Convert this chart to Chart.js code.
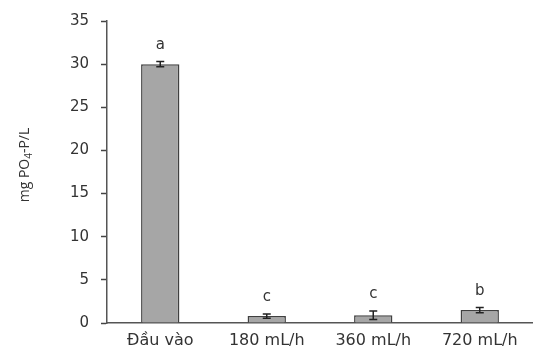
<!DOCTYPE html>
<html lang="vi">
<head>
<meta charset="UTF-8" />
<title>PO4-P</title>
<script src="https://cdn.jsdelivr.net/npm/chart.js"></script>
<style>
  html, body { margin: 0; padding: 0; background: #fff; }
  #wrap { width: 533px; height: 356px; }
</style>
</head>
<body>
<div id="wrap"><canvas id="chart"></canvas></div>
<script>
  const categories = ['Đầu vào', '180 mL/h', '360 mL/h', '720 mL/h'];
  const means = [30.0, 0.8, 0.9, 1.5];
  const errors = [0.3, 0.25, 0.5, 0.3];
  const letters = ['a', 'c', 'c', 'b'];
  const yTicks = [0, 5, 10, 15, 20, 25, 30, 35];

  const textColor = '#333';
  const fontFam = '"DejaVu Sans", Verdana, sans-serif';

  // error bars + significance letters
  const errorBars = {
    id: 'errorBars',
    afterDatasetsDraw(chart) {
      const ctx = chart.ctx;
      const meta = chart.getDatasetMeta(0);
      const y = chart.scales.y;
      ctx.save();
      ctx.strokeStyle = '#222';
      ctx.lineWidth = 1.5;
      meta.data.forEach((bar, i) => {
        const x = bar.x;
        const top = y.getPixelForValue(means[i] + errors[i]);
        const bot = y.getPixelForValue(means[i] - errors[i]);
        ctx.beginPath();
        ctx.moveTo(x, top); ctx.lineTo(x, bot);
        ctx.moveTo(x - 4, top); ctx.lineTo(x + 4, top);
        ctx.moveTo(x - 4, bot); ctx.lineTo(x + 4, bot);
        ctx.stroke();
        ctx.fillStyle = textColor;
        ctx.font = '15px ' + fontFam;
        ctx.textAlign = 'center';
        ctx.textBaseline = 'bottom';
        ctx.fillText(letters[i], x, top - 9);
      });
      ctx.restore();
    }
  };

  // rotated y title with subscript
  const yTitle = {
    id: 'yTitle',
    afterDraw(chart) {
      const ctx = chart.ctx;
      const fam = '"Open Sans", sans-serif';
      const parts = [
        { t: 'mg PO', size: 14, dy: 0 },
        { t: '4', size: 10, dy: 3 },
        { t: '-P/L', size: 14, dy: 0 }
      ];
      ctx.save();
      ctx.fillStyle = textColor;
      ctx.textBaseline = 'alphabetic';
      let total = 0;
      parts.forEach(p => { ctx.font = p.size + 'px ' + fam; total += ctx.measureText(p.t).width; });
      ctx.translate(29, 165);
      ctx.rotate(-Math.PI / 2);
      let x = -total / 2;
      parts.forEach(p => {
        ctx.font = p.size + 'px ' + fam;
        ctx.fillText(p.t, x, p.dy);
        x += ctx.measureText(p.t).width;
      });
      ctx.restore();
    }
  };

  new Chart(document.getElementById('chart'), {
    type: 'bar',
    data: {
      labels: categories,
      datasets: [{
        data: means,
        backgroundColor: '#a6a6a6',
        borderColor: '#404040',
        borderWidth: 1.5,
        categoryPercentage: 1,
        barPercentage: 0.36
      }]
    },
    options: {
      responsive: true,
      maintainAspectRatio: false,
      animation: false,
      layout: { padding: { top: 15, right: 0, left: 0, bottom: 0 } },
      plugins: { legend: { display: false }, tooltip: { enabled: false } },
      scales: {
        x: {
          grid: { display: false, drawTicks: false },
          border: { color: '#555', width: 1.5 },
          ticks: { color: textColor, font: { family: fontFam, size: 16 }, padding: 8 },
          afterFit(s) { s.height = 33; }
        },
        y: {
          min: 0,
          max: 35,
          grid: { drawOnChartArea: false, drawTicks: true, tickLength: 6, tickColor: '#444', tickWidth: 1.5 },
          border: { color: '#555', width: 1.5 },
          afterBuildTicks(s) { s.ticks = yTicks.map(v => ({ value: v })); },
          ticks: { color: textColor, font: { family: fontFam, size: 15 }, padding: 12 },
          afterFit(s) { s.width = 107; }
        }
      }
    },
    plugins: [errorBars, yTitle]
  });
</script>
</body>
</html>
